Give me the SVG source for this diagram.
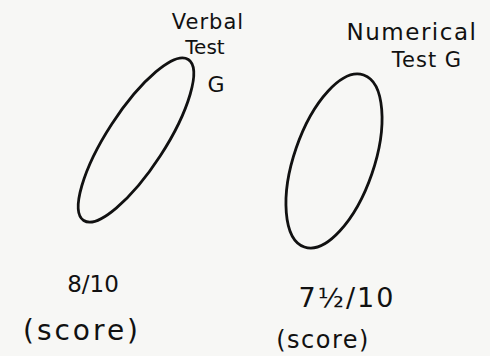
<svg xmlns="http://www.w3.org/2000/svg" width="490" height="356" viewBox="0 0 490 356">
<style>
.shape{fill:none;stroke:#111;stroke-width:2.8}
text{font-family:"DejaVu Sans","Liberation Sans",sans-serif;fill:#111}
</style>
<rect width="490" height="356" fill="#f7f7f5"/>
<g id="verbal">
<ellipse class="shape" cx="136" cy="140" rx="96" ry="29" transform="rotate(-57 136 140)"/>
<text x="208" y="29" text-anchor="middle" font-size="21" letter-spacing="1">Verbal</text>
<text x="205" y="54" text-anchor="middle" font-size="20">Test</text>
<text x="216" y="92" text-anchor="middle" font-size="22">G</text>
<text x="93" y="292" text-anchor="middle" font-size="23">8/10</text>
<text x="82" y="340" text-anchor="middle" font-size="28" letter-spacing="3">(score)</text>
</g>
<g id="numerical">
<ellipse class="shape" cx="334" cy="161" rx="91" ry="40" transform="rotate(-71 334 161)"/>
<text x="412" y="40" text-anchor="middle" font-size="23" letter-spacing="1.5">Numerical</text>
<text x="427" y="67" text-anchor="middle" font-size="21" letter-spacing="1">Test G</text>
<text x="347" y="307" text-anchor="middle" font-size="27" letter-spacing="2">7½/10</text>
<text x="323" y="348" text-anchor="middle" font-size="24" letter-spacing="1.5">(score)</text>
</g>
</svg>
